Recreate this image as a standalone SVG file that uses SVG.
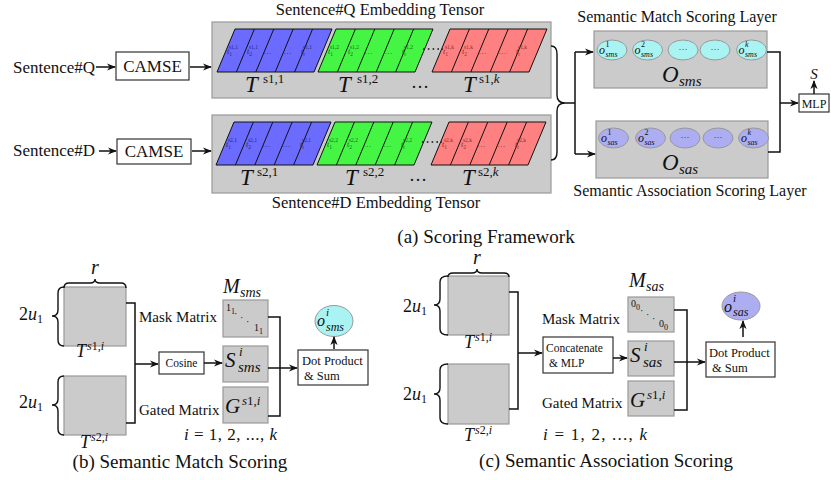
<svg xmlns="http://www.w3.org/2000/svg" width="831" height="480" viewBox="0 0 831 480" font-family="'Liberation Serif', 'DejaVu Serif', serif">
<style>
text{font-family:"Liberation Serif","DejaVu Serif",serif;fill:#111}
.it{font-style:italic}
.gb{fill:#cbcbcb;stroke:#999;stroke-width:1.2}
.wb{fill:#fff;stroke:#333;stroke-width:1.2}
.ln{fill:none;stroke:#111;stroke-width:1.5}
.br{fill:none;stroke:#111;stroke-width:1.4}
.ar{fill:none;stroke:#111;stroke-width:1.5;marker-end:url(#ah)}
.cy{fill:#aaf3f3;stroke:#999;stroke-width:1}
.lv{fill:#adadf2;stroke:#999;stroke-width:1}
.tl{font-size:8px;font-style:italic}
.ts{font-size:5.5px;font-style:normal}
.lb{fill:#26267a}
.lg{fill:#1c6a1c}
.lr{fill:#863030}
.tp{stroke:#111;stroke-width:1}
</style>
<defs>
<marker id="ah" viewBox="0 0 10 10" refX="9" refY="5" markerWidth="9" markerHeight="9" markerUnits="userSpaceOnUse" orient="auto"><path d="M0,1 L10,5 L0,9 L3,5 Z" fill="#111"/></marker>
<path id="tensor" d="M0,0 L97,0 L115,-43 L18,-43 Z M19.4,0 L37.4,-43 M38.8,0 L56.8,-43 M58.2,0 L76.2,-43 M77.6,0 L95.6,-43"/>
</defs>

<!-- Titles -->
<text x="380" y="15" font-size="16.5" text-anchor="middle">Sentence#Q Embedding Tensor</text>
<text x="376" y="208" font-size="16.5" text-anchor="middle">Sentence#D Embedding Tensor</text>
<text x="677" y="22" font-size="16" text-anchor="middle">Semantic Match Scoring Layer</text>
<text x="690" y="196" font-size="16" text-anchor="middle">Semantic Association Scoring Layer</text>
<text x="486" y="243" font-size="19" text-anchor="middle">(a) Scoring Framework</text>
<text x="180" y="468" font-size="19" text-anchor="middle">(b) Semantic Match Scoring</text>
<text x="606" y="467" font-size="19" text-anchor="middle">(c) Semantic Association Scoring</text>

<g id="sentQ"><text x="13" y="73" font-size="17">Sentence#Q</text></g>
<g id="sentD"><text x="13" y="156" font-size="17">Sentence#D</text></g>
<g id="camseQ"><rect class="wb" x="116" y="52" width="73" height="28"/><text x="152.5" y="72" font-size="17" text-anchor="middle">CAMSE</text></g>
<g id="camseD"><rect class="wb" x="117" y="139" width="74" height="25"/><text x="154" y="157" font-size="17" text-anchor="middle">CAMSE</text></g>

<!-- Q tensor -->
<g id="tensorQ">
<rect class="gb" x="212" y="22" width="339" height="76"/>
<use href="#tensor" x="217" y="72" fill="#6b6bff" class="tp"/>
<use href="#tensor" x="318" y="72" fill="#44f544" class="tp"/>
<use href="#tensor" x="432" y="72" fill="#ff8080" class="tp"/>
<text class="tl lb" x="227" y="54">t<tspan class="ts" dy="2">1</tspan><tspan class="ts" dx="-3" dy="-7">s1,1</tspan></text>
<text class="tl lb" x="247" y="54">t<tspan class="ts" dy="2">2</tspan><tspan class="ts" dx="-3" dy="-7">s1,1</tspan></text>
<text class="tl lb" x="264" y="54">…</text><text class="tl lb" x="284" y="54">…</text>
<text class="tl lb" x="301" y="54">t<tspan class="ts" dy="2">r</tspan><tspan class="ts" dx="-2" dy="-7">s1,1</tspan></text>
<text class="tl lg" x="328" y="54">t<tspan class="ts" dy="2">1</tspan><tspan class="ts" dx="-3" dy="-7">s1,2</tspan></text>
<text class="tl lg" x="348" y="54">t<tspan class="ts" dy="2">2</tspan><tspan class="ts" dx="-3" dy="-7">s1,2</tspan></text>
<text class="tl lg" x="365" y="54">…</text><text class="tl lg" x="385" y="54">…</text>
<text class="tl lg" x="402" y="54">t<tspan class="ts" dy="2">r</tspan><tspan class="ts" dx="-2" dy="-7">s1,2</tspan></text>
<text class="tl lr" x="443" y="54">t<tspan class="ts" dy="2">1</tspan><tspan class="ts" dx="-3" dy="-7">s1,k</tspan></text>
<text class="tl lr" x="462" y="54">t<tspan class="ts" dy="2">2</tspan><tspan class="ts" dx="-3" dy="-7">s1,k</tspan></text>
<text class="tl lr" x="479" y="54">…</text><text class="tl lr" x="499" y="54">…</text>
<text class="tl lr" x="516" y="54">t<tspan class="ts" dy="2">r</tspan><tspan class="ts" dx="-2" dy="-7">s1,k</tspan></text>
<line x1="423" y1="49" x2="443" y2="49" stroke="#111" stroke-width="1.6" stroke-dasharray="1.6 3.2"/>
<text class="it" x="245" y="92" font-size="23">T</text><text x="263" y="83" font-size="13">s1,1</text>
<text class="it" x="338" y="92" font-size="23">T</text><text x="357" y="83" font-size="13">s1,2</text>
<text class="it" x="463" y="92" font-size="23">T</text><text x="479" y="83" font-size="13">s1,<tspan class="it">k</tspan></text>
<text x="411" y="88" font-size="18">…</text>
</g>

<!-- D tensor -->
<g id="tensorD">
<rect class="gb" x="212" y="115" width="339" height="78"/>
<use href="#tensor" x="216" y="165" fill="#6b6bff" class="tp"/>
<use href="#tensor" x="317" y="165" fill="#44f544" class="tp"/>
<use href="#tensor" x="431" y="165" fill="#ff8080" class="tp"/>
<text class="tl lb" x="226" y="147">t<tspan class="ts" dy="2">1</tspan><tspan class="ts" dx="-3" dy="-7">s2,1</tspan></text>
<text class="tl lb" x="246" y="147">t<tspan class="ts" dy="2">2</tspan><tspan class="ts" dx="-3" dy="-7">s2,1</tspan></text>
<text class="tl lb" x="263" y="147">…</text><text class="tl lb" x="283" y="147">…</text>
<text class="tl lb" x="300" y="147">t<tspan class="ts" dy="2">r</tspan><tspan class="ts" dx="-2" dy="-7">s2,1</tspan></text>
<text class="tl lg" x="327" y="147">t<tspan class="ts" dy="2">1</tspan><tspan class="ts" dx="-3" dy="-7">s2,2</tspan></text>
<text class="tl lg" x="347" y="147">t<tspan class="ts" dy="2">2</tspan><tspan class="ts" dx="-3" dy="-7">s2,2</tspan></text>
<text class="tl lg" x="364" y="147">…</text><text class="tl lg" x="384" y="147">…</text>
<text class="tl lg" x="401" y="147">t<tspan class="ts" dy="2">r</tspan><tspan class="ts" dx="-2" dy="-7">s2,2</tspan></text>
<text class="tl lr" x="442" y="147">t<tspan class="ts" dy="2">1</tspan><tspan class="ts" dx="-3" dy="-7">s2,k</tspan></text>
<text class="tl lr" x="461" y="147">t<tspan class="ts" dy="2">2</tspan><tspan class="ts" dx="-3" dy="-7">s2,k</tspan></text>
<text class="tl lr" x="478" y="147">…</text><text class="tl lr" x="498" y="147">…</text>
<text class="tl lr" x="515" y="147">t<tspan class="ts" dy="2">r</tspan><tspan class="ts" dx="-2" dy="-7">s2,k</tspan></text>
<line x1="422" y1="142" x2="442" y2="142" stroke="#111" stroke-width="1.6" stroke-dasharray="1.6 3.2"/>
<text class="it" x="240" y="185" font-size="23">T</text><text x="257" y="176" font-size="13">s2,1</text>
<text class="it" x="345" y="185" font-size="23">T</text><text x="363" y="176" font-size="13">s2,2</text>
<text class="it" x="462" y="185" font-size="23">T</text><text x="478" y="176" font-size="13">s2,<tspan class="it">k</tspan></text>
<text x="409" y="181" font-size="18">…</text>
</g>

<!-- Semantic match layer -->
<g id="smsLayer">
<rect class="gb" x="594" y="31" width="173" height="57"/>
<ellipse class="cy" cx="612" cy="50" rx="15" ry="10"/>
<ellipse class="cy" cx="647.5" cy="50" rx="15" ry="10"/>
<ellipse class="cy" cx="683" cy="50" rx="15" ry="10"/>
<ellipse class="cy" cx="715" cy="50" rx="15" ry="10"/>
<ellipse class="cy" cx="751.5" cy="50" rx="15" ry="10"/>
<text class="it" x="599" y="54" font-size="12">o</text><text x="605.5" y="47" font-size="8">1</text><text class="it" x="605.5" y="57" font-size="8">sms</text>
<text class="it" x="634.5" y="54" font-size="12">o</text><text x="641" y="47" font-size="8">2</text><text class="it" x="641" y="57" font-size="8">sms</text>
<text x="683" y="52" font-size="9" text-anchor="middle">···</text>
<text x="715" y="52" font-size="9" text-anchor="middle">···</text>
<text class="it" x="738.5" y="54" font-size="12">o</text><text class="it" x="745" y="47" font-size="8">k</text><text class="it" x="745" y="57" font-size="8">sms</text>
<text class="it" x="662" y="82" font-size="23">O</text><text class="it" x="679" y="86" font-size="15">sms</text>
</g>

<!-- Semantic association layer -->
<g id="sasLayer">
<rect class="gb" x="596" y="121" width="172" height="57"/>
<ellipse class="lv" cx="613.5" cy="138" rx="15" ry="10"/>
<ellipse class="lv" cx="650.5" cy="138" rx="15" ry="10"/>
<ellipse class="lv" cx="685" cy="138" rx="15" ry="10"/>
<ellipse class="lv" cx="718" cy="138" rx="15" ry="10"/>
<ellipse class="lv" cx="753.5" cy="138" rx="15" ry="10"/>
<text class="it" x="601" y="142" font-size="12">o</text><text x="607.5" y="135" font-size="8">1</text><text class="it" x="607.5" y="145" font-size="8">sas</text>
<text class="it" x="638" y="142" font-size="12">o</text><text x="644.5" y="135" font-size="8">2</text><text class="it" x="644.5" y="145" font-size="8">sas</text>
<text x="685" y="140" font-size="9" text-anchor="middle">···</text>
<text x="718" y="140" font-size="9" text-anchor="middle">···</text>
<text class="it" x="741" y="142" font-size="12">o</text><text class="it" x="747.5" y="135" font-size="8">k</text><text class="it" x="747.5" y="145" font-size="8">sas</text>
<text class="it" x="662" y="170" font-size="23">O</text><text class="it" x="679" y="174" font-size="15">sas</text>
</g>

<g id="mlp"><rect class="wb" x="799" y="94" width="30" height="18"/><text x="814" y="107.5" font-size="12" text-anchor="middle">MLP</text></g>
<g id="scoreS"><text class="it" x="814" y="79" font-size="15" text-anchor="middle">S</text></g>

<!-- Panel b -->
<g id="b_T1"><rect class="gb" x="64" y="287" width="62" height="59"/>
<text class="it" x="95" y="274" font-size="20" text-anchor="middle">r</text>
<text x="19" y="320" font-size="18">2<tspan class="it">u</tspan><tspan font-size="12" dy="3">1</tspan></text>
<text class="it" x="76" y="357" font-size="18">T</text><text class="it" x="87" y="350" font-size="12">s<tspan font-style="normal">1,</tspan>i</text></g>
<g id="b_T2"><rect class="gb" x="64" y="376" width="62" height="59"/>
<text x="19" y="408" font-size="18">2<tspan class="it">u</tspan><tspan font-size="12" dy="3">1</tspan></text>
<text class="it" x="80" y="448" font-size="18">T</text><text class="it" x="91" y="441" font-size="12">s<tspan font-style="normal">2,</tspan>i</text></g>
<g id="b_cos"><rect class="wb" x="159" y="352" width="45" height="22"/><text x="181.5" y="367" font-size="11.5" text-anchor="middle">Cosine</text></g>
<g id="b_mask"><text x="139" y="322" font-size="15">Mask Matrix</text><rect class="gb" x="223" y="300" width="45" height="37"/>
<text x="226" y="311" font-size="10">1<tspan font-size="8" dy="3">1</tspan></text>
<text x="234" y="317" font-size="10">·</text><text x="240" y="321" font-size="10">·</text><text x="246" y="325" font-size="10">·</text>
<text x="254" y="331" font-size="10">1<tspan font-size="8" dy="3">1</tspan></text>
<text class="it" x="223" y="293" font-size="20">M</text><text class="it" x="240" y="297" font-size="14">sms</text></g>
<g id="b_S"><rect class="gb" x="223" y="346" width="45" height="36"/><text class="it" x="225" y="367" font-size="21">S</text><text class="it" x="239" y="356" font-size="13">i</text><text class="it" x="238" y="372" font-size="15">sms</text></g>
<g id="b_G"><text x="139" y="415" font-size="15">Gated Matrix</text><rect class="gb" x="223" y="387" width="45" height="36"/><text class="it" x="225" y="413" font-size="21">G</text><text class="it" x="242" y="405" font-size="13">s<tspan font-style="normal">1,</tspan>i</text></g>
<g id="b_dot"><rect class="wb" x="298" y="350" width="70" height="35"/><text x="302" y="365" font-size="12.5">Dot Product</text><text x="304" y="380" font-size="12.5">&amp; Sum</text></g>
<g id="b_out"><ellipse class="cy" cx="334" cy="321" rx="19" ry="15.5"/><text class="it" x="317" y="326" font-size="16">o</text><text class="it" x="326" y="316" font-size="11">i</text><text class="it" x="326" y="331" font-size="12">sms</text></g>
<text x="184" y="440" font-size="17" textLength="93"><tspan class="it">i</tspan> = 1, 2, ..., <tspan class="it">k</tspan></text>

<!-- Panel c -->
<g id="c_T1"><rect class="gb" x="448" y="276" width="61" height="59"/>
<text class="it" x="477" y="264" font-size="20" text-anchor="middle">r</text>
<text x="403" y="312" font-size="18">2<tspan class="it">u</tspan><tspan font-size="12" dy="3">1</tspan></text>
<text class="it" x="464" y="348" font-size="18">T</text><text class="it" x="475" y="341" font-size="12">s<tspan font-style="normal">1,</tspan>i</text></g>
<g id="c_T2"><rect class="gb" x="448" y="364" width="61" height="60"/>
<text x="403" y="400" font-size="18">2<tspan class="it">u</tspan><tspan font-size="12" dy="3">1</tspan></text>
<text class="it" x="464" y="441" font-size="18">T</text><text class="it" x="475" y="434" font-size="12">s<tspan font-style="normal">2,</tspan>i</text></g>
<g id="c_cat"><rect class="wb" x="543" y="337" width="70" height="36"/><text x="546" y="352" font-size="11.5">Concatenate</text><text x="549" y="367" font-size="11.5">&amp; MLP</text></g>
<g id="c_mask"><text x="542" y="324" font-size="15">Mask Matrix</text><rect class="gb" x="628" y="297" width="46" height="35"/>
<text x="631" y="307" font-size="10">0<tspan font-size="8" dy="3">0</tspan></text>
<text x="640" y="314" font-size="10">·</text><text x="646" y="318" font-size="10">·</text><text x="652" y="322" font-size="10">·</text>
<text x="659" y="327" font-size="10">0<tspan font-size="8" dy="3">0</tspan></text>
<text class="it" x="629" y="287" font-size="20">M</text><text class="it" x="646" y="291" font-size="14">sas</text></g>
<g id="c_S"><rect class="gb" x="628" y="341" width="46" height="35"/><text class="it" x="630" y="362" font-size="21">S</text><text class="it" x="644" y="351" font-size="13">i</text><text class="it" x="643" y="367" font-size="15">sas</text></g>
<g id="c_G"><text x="542" y="408" font-size="15">Gated Matrix</text><rect class="gb" x="628" y="381" width="46" height="35"/><text class="it" x="630" y="407" font-size="21">G</text><text class="it" x="647" y="399" font-size="13">s<tspan font-style="normal">1,</tspan>i</text></g>
<g id="c_dot"><rect class="wb" x="706" y="342" width="69" height="35"/><text x="709" y="357" font-size="12.5">Dot Product</text><text x="712" y="372" font-size="12.5">&amp; Sum</text></g>
<g id="c_out"><ellipse class="lv" cx="741" cy="306" rx="19" ry="14"/><text class="it" x="724" y="312" font-size="16">o</text><text class="it" x="733" y="302" font-size="11">i</text><text class="it" x="733" y="316" font-size="12">sas</text></g>
<text x="543" y="440" font-size="17" textLength="104"><tspan class="it">i</tspan> = 1, 2, ..., <tspan class="it">k</tspan></text>

<!-- Connectors -->
<g id="connectors">
<line class="ar" x1="96" y1="67" x2="115" y2="67"/>
<line class="ar" x1="190" y1="67" x2="211" y2="67"/>
<line class="ar" x1="99" y1="151" x2="116" y2="151"/>
<line class="ar" x1="192" y1="151" x2="211" y2="151"/>
<path class="br" d="M551,46 Q557,46 557,54 L557,95 Q557,103 565,103 Q557,103 557,111 L557,152 Q557,160 551,160"/>
<path class="ln" d="M565,103 H575 M575,52 V154"/>
<line class="ar" x1="575" y1="52" x2="593" y2="52"/>
<line class="ar" x1="575" y1="154" x2="595" y2="154"/>
<path class="ln" d="M767,52 H780 V152 H768"/>
<line class="ar" x1="780" y1="103" x2="798" y2="103"/>
<line class="ar" x1="814" y1="94" x2="814" y2="81"/>
<path class="br" d="M64,288 Q64,283 69,283 L90,283 Q95,283 95,279 Q95,283 100,283 L121,283 Q126,283 126,288"/>
<path class="br" d="M64,287 Q58,287 58,293 L58,310 Q58,316 52,316 Q58,316 58,322 L58,340 Q58,346 64,346"/>
<path class="br" d="M64,376 Q58,376 58,382 L58,399 Q58,405 52,405 Q58,405 58,411 L58,429 Q58,435 64,435"/>
<path class="ln" d="M126,303 H135 V423 H126"/>
<line class="ar" x1="135" y1="364" x2="158" y2="364"/>
<line class="ar" x1="204" y1="363" x2="222" y2="363"/>
<path class="ln" d="M268,317 H280 V416 H268"/>
<line class="ar" x1="268" y1="368" x2="297" y2="368"/>
<line class="ar" x1="334" y1="349" x2="334" y2="337"/>
<path class="br" d="M448,277 Q448,273 453,273 L472,273 Q477,273 477,269 Q477,273 482,273 L504,273 Q509,273 509,277"/>
<path class="br" d="M448,276 Q440,276 440,282 L440,299 Q440,305 434,305 Q440,305 440,311 L440,329 Q440,335 448,335"/>
<path class="br" d="M448,364 Q440,364 440,370 L440,388 Q440,394 434,394 Q440,394 440,400 L440,418 Q440,424 448,424"/>
<path class="ln" d="M509,292 H518 V409 H509"/>
<line class="ar" x1="518" y1="353" x2="542" y2="353"/>
<line class="ar" x1="613" y1="358" x2="627" y2="358"/>
<path class="ln" d="M674,310 H687 V410 H674"/>
<line class="ar" x1="674" y1="362" x2="705" y2="362"/>
<line class="ar" x1="743" y1="337" x2="743" y2="321"/>
</g>
</svg>
